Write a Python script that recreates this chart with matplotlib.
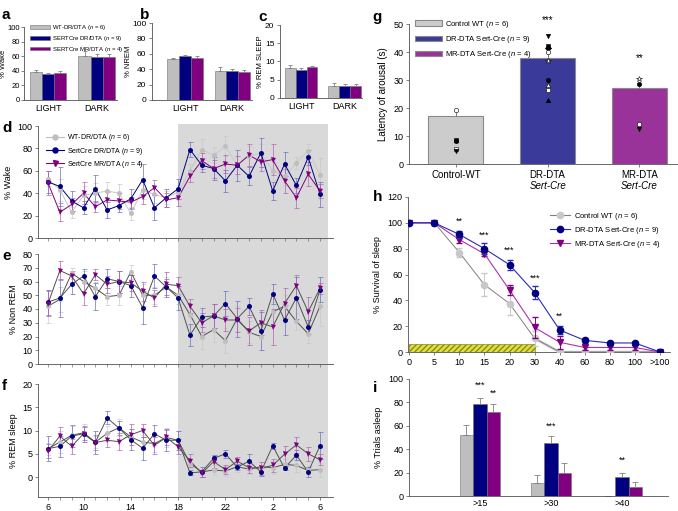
import numpy as np
import matplotlib.pyplot as plt
import matplotlib.transforms as mtransforms
from matplotlib.patches import Patch, Rectangle
from matplotlib.lines import Line2D

plt.rcParams['font.family'] = ['Liberation Sans', 'DejaVu Sans']
plt.rcParams['mathtext.fontset'] = 'custom'
plt.rcParams['mathtext.it'] = 'Liberation Sans:italic'
plt.rcParams['mathtext.rm'] = 'Liberation Sans'
plt.rcParams['axes.linewidth'] = 0.6
plt.rcParams['axes.edgecolor'] = '#505050'
plt.rcParams['xtick.color'] = '#505050'
plt.rcParams['ytick.color'] = '#505050'
plt.rcParams['xtick.labelcolor'] = 'black'
plt.rcParams['ytick.labelcolor'] = 'black'

W, H = 678, 511

# ---- colours
GRAY = '#bebebe'
NAVY = '#000080'
PURPLE = '#800080'

# ---- panels a-c : light / dark phase means
phases = ['LIGHT', 'DARK']
wake_mean = {'wt': [38.5, 60.0], 'dr': [35.0, 59.5], 'mr': [37.0, 59.5]}
wake_err = {'wt': [3.0, 6.5], 'dr': [2.0, 3.0], 'mr': [2.5, 3.0]}
nrem_mean = {'wt': [53.0, 37.5], 'dr': [57.0, 37.5], 'mr': [54.5, 37.0]}
nrem_err = {'wt': [2.0, 6.0], 'dr': [2.0, 2.5], 'mr': [2.0, 2.5]}
rem_mean = {'wt': [8.3, 3.4], 'dr': [7.8, 3.3], 'mr': [8.4, 3.2]}
rem_err = {'wt': [0.8, 0.6], 'dr': [0.4, 0.4], 'mr': [0.5, 0.6]}
abc_labels = ['WT-DR/DTA ($n$ = 6)', 'SERTCre DR/DTA ($n$ = 9)', 'SERTCre MR/DTA ($n$ = 4)']

# ---- panels d-f : hourly time course (24 bins)
hour_ticks = [0, 3, 7, 11, 15, 19, 23]
hour_labels = ['6', '10', '14', '18', '22', '2', '6']
dark_start, dark_end = 11, 23.66

wake_wt = [53, 43, 23, 38, 40, 42, 40, 22, 43, 39, 36, 41, 60, 79, 74, 82, 65, 73, 76, 60, 55, 67, 78, 56]
wake_dr = [50, 46, 33, 27, 44, 25, 29, 35, 52, 27, 36, 44, 79, 65, 62, 51, 65, 55, 76, 42, 66, 47, 72, 39]
wake_mr = [49, 23, 30, 40, 28, 34, 33, 32, 37, 45, 34, 36, 55, 69, 62, 66, 65, 74, 68, 70, 51, 36, 57, 42]
wake_wt_e = [7, 10, 5, 8, 9, 8, 8, 6, 8, 8, 6, 6, 6, 9, 7, 9, 8, 9, 8, 8, 8, 5, 6, 15]
wake_dr_e = [10, 17, 9, 6, 12, 7, 6, 9, 14, 11, 8, 9, 7, 6, 10, 10, 14, 8, 13, 8, 11, 7, 7, 11]
wake_mr_e = [11, 8, 6, 10, 5, 7, 7, 5, 7, 7, 6, 7, 5, 7, 8, 8, 8, 10, 8, 14, 11, 9, 11, 6]

nrem_wt = [42, 47, 66, 60, 55, 49, 50, 67, 50, 50, 56, 50, 36, 20, 25, 17, 33, 23, 20, 38, 42, 31, 22, 42]
nrem_dr = [45, 48, 58, 64, 49, 62, 60, 57, 41, 64, 56, 48, 21, 34, 35, 44, 33, 42, 24, 51, 32, 48, 27, 54]
nrem_mr = [44, 68, 64, 51, 65, 58, 60, 59, 53, 48, 58, 57, 42, 30, 35, 32, 32, 24, 30, 27, 44, 57, 38, 55]
nrem_wt_e = [12, 9, 4, 8, 5, 6, 7, 5, 8, 6, 7, 6, 8, 9, 9, 9, 9, 8, 10, 7, 8, 6, 7, 14]
nrem_dr_e = [9, 14, 7, 5, 10, 7, 8, 8, 12, 9, 6, 9, 8, 7, 9, 9, 13, 6, 14, 7, 11, 15, 5, 9]
nrem_mr_e = [9, 7, 4, 8, 4, 6, 8, 6, 7, 6, 9, 6, 5, 7, 9, 8, 9, 10, 9, 13, 11, 8, 11, 4]

rem_wt = [6.1, 7.5, 9.0, 9.5, 7.5, 9.4, 10.6, 8.6, 7.5, 7.2, 8.5, 7.9, 2.9, 1.1, 1.5, 1.3, 2.2, 1.7, 2.2, 2.0, 2.7, 2.5, 1.4, 1.6]
rem_dr = [6.1, 6.6, 8.8, 9.3, 7.5, 12.7, 10.5, 8.0, 6.2, 9.3, 7.9, 7.9, 0.9, 1.1, 4.0, 5.0, 2.1, 3.4, 1.1, 6.7, 1.9, 4.7, 1.1, 6.7]
rem_mr = [5.6, 8.8, 6.6, 9.3, 7.4, 7.9, 7.6, 9.1, 10.0, 6.8, 8.5, 6.5, 3.5, 0.8, 3.3, 1.6, 3.4, 2.0, 1.9, 2.5, 4.9, 6.9, 5.0, 3.7]
rem_wt_e = [1.3, 2.4, 2.0, 2.0, 1.3, 1.6, 1.8, 1.7, 1.5, 1.8, 2.0, 2.0, 1.0, 0.7, 1.0, 1.0, 1.2, 1.1, 1.0, 1.4, 1.2, 1.5, 0.9, 1.5]
rem_dr_e = [2.7, 2.2, 2.4, 1.4, 2.5, 1.4, 1.5, 2.3, 2.5, 1.8, 2.4, 2.0, 0.5, 1.0, 0.8, 0.9, 0.7, 1.6, 0.8, 0.7, 0.5, 1.1, 1.0, 2.9]
rem_mr_e = [1.5, 2.0, 1.6, 1.7, 1.6, 1.5, 1.9, 2.3, 1.4, 1.9, 1.6, 1.6, 1.4, 0.8, 1.3, 1.0, 1.0, 1.2, 1.4, 1.4, 1.8, 1.7, 1.5, 1.2]
def_labels = ['WT-DR/DTA ($n$ = 6)', 'SertCre DR/DTA ($n$ = 9)', 'SertCre MR/DTA ($n$ = 4)']

# ---- panel g : latency of arousal
g_groups = ['Control-WT', 'DR-DTA', 'MR-DTA']
g_mean = [17.0, 37.7, 27.0]
g_err = [1.8, 1.5, 1.2]
g_points = [[19.3, 8.5, 8.1, 5.3, 4.7],
            [45.8, 42.3, 41.3, 40.1, 36.9, 29.9, 28.2, 26.4, 22.9],
            [30.2, 28.5, 14.3, 12.4]]
g_marks = [['o', 's', 'o', 's', 'v'],
           ['v', 's', 'D', 'o', '*', 'o', '^', 's', '^'],
           ['*', 'o', 'o', 'v']]
g_fill = [['w', 'k', 'k', 'w', 'k'],
          ['k', 'k', 'k', 'w', 'w', 'k', 'w', 'w', 'k'],
          ['w', 'k', 'w', 'k']]
g_stars = ['', '***', '**']
g_star_y = [0, 51.5, 38.0]
g_labels = ['Control WT ($n$ = 6)', 'DR-DTA Sert-Cre ($n$ = 9)', 'MR-DTA Sert-Cre ($n$ = 4)']

# ---- panel h : survival of sleep
h_ticks = ['0', '5', '10', '15', '20', '30', '40', '60', '80', '100', '>100']
h_wt = [100, 100, 77, 52, 37.5, 10.5, 0, 0, 0, 0, 0]
h_dr = [100, 100, 91, 80, 67.5, 46, 17, 9, 7, 7, 0]
h_mr = [100, 100, 87, 76, 48, 19, 7.5, 3.5, 3.5, 3.5, 0]
h_wt_e = [0, 0, 3.5, 9, 9, 6, 0, 0, 0, 0, 0]
h_dr_e = [0, 0, 3, 4, 4, 5, 3, 2, 1, 1, 0]
h_mr_e = [0, 0, 3, 2, 4, 8, 5, 2, 2, 2, 0]
h_stars = ['', '', '**', '***', '***', '***', '**', '', '', '', '']
h_star_y = [0, 0, 98, 87, 75, 54, 24, 0, 0, 0, 0]

# ---- panel i : % trials asleep
i_groups = ['>15', '>30', '>40']
i_wt = [52, 11, 0]
i_dr = [79, 45.5, 16.5]
i_mr = [72, 20, 7.5]
i_wt_e = [8.5, 7, 0]
i_dr_e = [5, 5.5, 3]
i_mr_e = [7, 8, 4.5]
i_stars = {'dr': ['***', '***', '**'], 'mr': ['**', '', '']}
i_star_y = {'dr': [91, 56, 27], 'mr': [84, 0, 0]}


fig = plt.figure(figsize=(W / 100, H / 100), dpi=100)


def px_axes(l, t, r, b):
    ax = fig.add_axes([l / W, 1 - b / H, (r - l) / W, (b - t) / H])
    ax.set_facecolor('none')
    for s in ['top', 'right']:
        ax.spines[s].set_visible(False)
    ax.tick_params(labelsize=6.5, length=2, width=0.5, pad=2)
    return ax


def phase_bars(ax, means, errs, ymax, step, ylabel, xlim):
    x = np.arange(len(phases))
    w = 0.25
    for k, (key, col) in enumerate(zip(['wt', 'dr', 'mr'], [GRAY, NAVY, PURPLE])):
        xs = x + (k - 1) * w
        ax.bar(xs, means[key], w, color=col, edgecolor='#707070', linewidth=0.4)
        ax.errorbar(xs, means[key], yerr=[np.zeros(2), errs[key]], fmt='none',
                    ecolor='#808080', elinewidth=0.6, capsize=1.5, capthick=0.6)
    ax.set_ylim(0, ymax)
    ax.set_yticks(np.arange(0, ymax + 1, step))
    ax.set_xlim(*xlim)
    ax.set_xticks(x)
    ax.set_xticklabels(phases, fontsize=6.5)
    ax.tick_params(axis='y', labelsize=6)
    ax.tick_params(axis='x', length=0, pad=3)
    ax.set_ylabel(ylabel, fontsize=5.5, labelpad=0.5)


# panel a
ax_a = px_axes(24, 27, 117, 100)
phase_bars(ax_a, wake_mean, wake_err, 100, 20, '% Wake', (-0.5, 1.42))
ax_a.tick_params(axis='y', labelsize=5.5, pad=1)
ax_a.legend(handles=[Patch(facecolor=c, edgecolor='#707070', linewidth=0.4) for c in [GRAY, NAVY, PURPLE]],
            labels=abc_labels, loc='upper left', bbox_to_anchor=(27 / W, 1 - 20 / H),
            bbox_transform=fig.transFigure, fontsize=4.3, frameon=False,
            handlelength=3.3, handleheight=0.6, labelspacing=0.3, handletextpad=0.4, borderpad=0)

# panel b
ax_b = px_axes(152, 23, 252, 100)
phase_bars(ax_b, nrem_mean, nrem_err, 100, 20, '% NREM', (-0.7, 1.42))

# panel c
ax_c = px_axes(280, 25, 362, 98)
phase_bars(ax_c, rem_mean, rem_err, 20, 5, '% REM SLEEP', (-0.48, 1.39))


# panels d-f
def time_course(ax, series, errs, line_cols, ylim, yticks, ylabel):
    x = np.arange(len(series[0]))
    marks = ['o', 'o', 'v']
    mcols = [GRAY, NAVY, PURPLE]
    ecols = ['#c8c8c8', '#6a6ac0', '#b060b0']
    for ys, es, lc, m, mc, ec in zip(series, errs, line_cols, marks, mcols, ecols):
        ax.errorbar(x, ys, yerr=es, fmt='none', ecolor=ec, elinewidth=0.6,
                    capsize=1.8, capthick=0.6, alpha=0.8, zorder=2)
        ax.plot(x, ys, color=lc, linewidth=0.7, zorder=3)
        ax.plot(x, ys, linestyle='none', marker=m, markersize=3.6, color=mc,
                markeredgewidth=0, zorder=4)
    ax.set_xlim(-0.85, 24.1)
    ax.set_ylim(*ylim)
    ax.set_yticks(yticks)
    ax.set_xticks(x, minor=True)
    ax.tick_params(axis='x', which='minor', length=2, width=0.4)
    ax.set_ylabel(ylabel, fontsize=6.5, labelpad=3)


ax_d = px_axes(38, 126, 333, 238)
time_course(ax_d, [wake_wt, wake_dr, wake_mr], [wake_wt_e, wake_dr_e, wake_mr_e],
            ['#c8c8c8', NAVY, PURPLE], (0, 100), np.arange(0, 101, 20), '% Wake')
ax_d.set_xticks([])
ax_d.legend(handles=[Line2D([], [], color=GRAY, marker='o', markersize=3.6, lw=0.8),
                     Line2D([], [], color=NAVY, marker='o', markersize=3.6, lw=0.8),
                     Line2D([], [], color=PURPLE, marker='v', markersize=3.6, lw=0.8)],
            labels=def_labels, loc='upper left', bbox_to_anchor=(43 / W, 1 - 129 / H),
            bbox_transform=fig.transFigure, fontsize=5, frameon=False,
            handlelength=2.5, labelspacing=0.3, handletextpad=0.5, borderpad=0)

ax_e = px_axes(38, 254, 333, 364)
time_course(ax_e, [nrem_wt, nrem_dr, nrem_mr], [nrem_wt_e, nrem_dr_e, nrem_mr_e],
            ['#505050'] * 3, (0, 80), np.arange(0, 81, 10), '% Non REM')
ax_e.set_xticks([])

ax_f = px_axes(38, 384, 333, 497)
time_course(ax_f, [rem_wt, rem_dr, rem_mr], [rem_wt_e, rem_dr_e, rem_mr_e],
            ['#505050'] * 3, (-4.3, 20), np.arange(0, 21, 5), '% REM sleep')
ax_f.spines['left'].set_bounds(-4.3, 20)
ax_f.set_xticks(hour_ticks)
ax_f.set_xticklabels(hour_labels, fontsize=6.5)

# dark phase shading spanning d-f
shade_tr = mtransforms.blended_transform_factory(ax_f.transData, fig.transFigure)
fig.add_artist(Rectangle((dark_start, 1 - 497 / H), dark_end - dark_start, (497 - 124) / H,
                         transform=shade_tr, facecolor='#d9d9d9', edgecolor='none', zorder=-1))

# panel g
ax_g = px_axes(409, 24, 690, 164)
gx = np.arange(len(g_groups))
g_cols = ['#cccccc', '#3a3a9a', '#993399']
ax_g.bar(gx, g_mean, 0.6, color=g_cols, edgecolor='#8a8a8a', linewidth=0.8, zorder=2)
ax_g.errorbar(gx, g_mean, yerr=[np.zeros(3), g_err], fmt='none', ecolor='#666666',
              elinewidth=0.6, capsize=0, zorder=3)
for k in range(len(g_groups)):
    for yv, m, fc in zip(g_points[k], g_marks[k], g_fill[k]):
        ax_g.plot(gx[k], yv, marker=m, markersize=3.2 if m != '*' else 4.2,
                  markerfacecolor=fc, markeredgecolor='k', markeredgewidth=0.4, zorder=4)
    ax_g.text(gx[k], g_star_y[k], g_stars[k], ha='center', va='center', fontsize=7)
ax_g.set_xlim(-0.51, 2.55)
ax_g.set_ylim(0, 50)
ax_g.set_yticks(np.arange(0, 51, 10))
ax_g.spines['bottom'].set_bounds(-0.51, 2.55)
ax_g.set_xticks(gx)
ax_g.set_xticklabels(g_groups, fontsize=7)
g_tr = mtransforms.blended_transform_factory(ax_g.transData, ax_g.transAxes)
for k in range(1, 3):
    ax_g.text(gx[k], -0.16, 'Sert-Cre', style='italic', ha='center', va='center',
              fontsize=7, transform=g_tr)
ax_g.set_ylabel('Latency of arousal (s)', fontsize=7, labelpad=4)
ax_g.legend(handles=[Patch(facecolor=c, edgecolor='#8a8a8a', linewidth=0.8) for c in g_cols],
            labels=g_labels, loc='upper left', bbox_to_anchor=(411 / W, 1 - 15 / H),
            bbox_transform=fig.transFigure, fontsize=5.5, frameon=False,
            handlelength=3.6, handleheight=0.75, labelspacing=0.55, handletextpad=0.4, borderpad=0)

# panel h
ax_h = px_axes(408, 197, 670, 352)
hx = np.arange(len(h_ticks))
ax_h.fill_between([0, h_ticks.index('30')], 0, 6, facecolor='#e0e040', edgecolor='#8a8a20',
                  hatch='//////', linewidth=0.5, zorder=1)
ax_h.errorbar(hx, h_wt, yerr=h_wt_e, color='#808080', marker='o', markersize=4.5,
              markerfacecolor='#c8c8c8', markeredgecolor='#c8c8c8', ecolor='#c8c8c8',
              elinewidth=0.7, capsize=2, linewidth=0.7, zorder=3)
ax_h.plot(hx[5:], h_wt[5:], color='#c8c8c8', linewidth=1.8, zorder=2)
ax_h.errorbar(hx, h_mr, yerr=h_mr_e, color='#b030b0', marker='v', markersize=4.5,
              markerfacecolor=PURPLE, markeredgecolor=PURPLE, ecolor=PURPLE,
              elinewidth=0.7, capsize=2, linewidth=0.8, zorder=4)
ax_h.errorbar(hx, h_dr, yerr=h_dr_e, color='#2a2ab8', marker='o', markersize=4.5,
              markerfacecolor=NAVY, markeredgecolor=NAVY, ecolor='#2a2ab8',
              elinewidth=0.7, capsize=2, linewidth=0.8, zorder=5)
for k in range(len(hx)):
    ax_h.text(hx[k], h_star_y[k], h_stars[k], ha='center', va='bottom', fontsize=6.5)
ax_h.set_xlim(-0.05, 10.4)
ax_h.set_ylim(0, 120)
ax_h.set_yticks(np.arange(0, 121, 20))
ax_h.set_xticks(hx)
ax_h.set_xticklabels(h_ticks, fontsize=6.5)
ax_h.set_ylabel('% Survival of sleep', fontsize=6.5, labelpad=4)
ax_h.legend(handles=[Line2D([], [], color='#808080', marker='o', markersize=4.5,
                            markerfacecolor='#c8c8c8', markeredgecolor='#c8c8c8', lw=0.8),
                     Line2D([], [], color='#2a2ab8', marker='o', markersize=4.5,
                            markerfacecolor=NAVY, markeredgecolor=NAVY, lw=0.8),
                     Line2D([], [], color='#b030b0', marker='v', markersize=4.5,
                            markerfacecolor=PURPLE, markeredgecolor=PURPLE, lw=0.8)],
            labels=g_labels, loc='upper left', bbox_to_anchor=(546 / W, 1 - 207 / H),
            bbox_transform=fig.transFigure, fontsize=5.5, frameon=False,
            handlelength=2.6, labelspacing=0.4, handletextpad=0.5, borderpad=0)

# panel i
ax_i = px_axes(409, 379, 668, 496)
ix = np.arange(1, len(i_groups) + 1)
w = 0.19
for k, (vals, errs, col) in enumerate(zip([i_wt, i_dr, i_mr], [i_wt_e, i_dr_e, i_mr_e],
                                          [GRAY, NAVY, PURPLE])):
    xs = ix + (k - 1) * w
    ax_i.bar(xs, vals, w, color=col, edgecolor='#707070', linewidth=0.4)
    ax_i.errorbar(xs, vals, yerr=[np.zeros(3), errs], fmt='none', ecolor='#808080',
                  elinewidth=0.6, capsize=2, capthick=0.6)
for key, off in [('dr', 0), ('mr', w)]:
    for k in range(len(ix)):
        ax_i.text(ix[k] + off, i_star_y[key][k], i_stars[key][k], ha='center', va='bottom',
                  fontsize=6.5)
ax_i.set_xlim(0, 3.65)
ax_i.set_ylim(0, 100)
ax_i.set_yticks(np.arange(0, 101, 20))
ax_i.set_xticks(ix)
ax_i.set_xticklabels(i_groups, fontsize=6.5)
ax_i.tick_params(axis='x', length=0, pad=2)
ax_i.set_ylabel('% Trials asleep', fontsize=6.5, labelpad=4)

# panel letters
for letter, xp, yp in [('a', 2, 15), ('b', 140, 15), ('c', 258, 17), ('g', 372, 17),
                       ('d', 2, 128), ('e', 2, 256), ('f', 2, 386), ('h', 373, 197),
                       ('i', 373, 388)]:
    fig.text(xp / W, 1 - yp / H, letter, fontsize=11, fontweight='bold', va='center')

fig.savefig('out.png', dpi=100)
